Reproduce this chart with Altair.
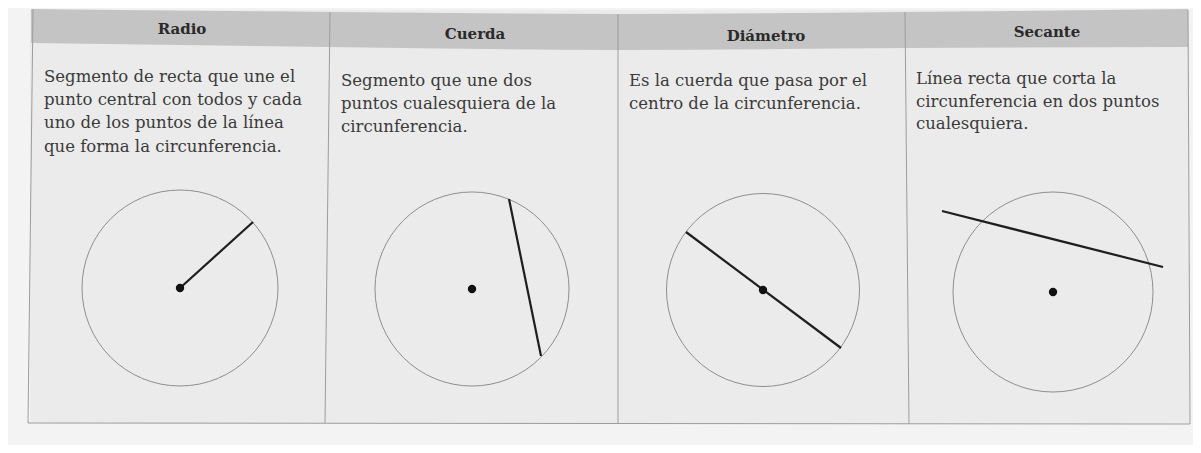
import altair as alt
import pandas as pd

# ---- content of the figure (image coordinate space, y grows downward) ----
headers = ["Radio", "Cuerda", "Diámetro", "Secante"]
header_x = [182, 475, 766, 1047]
header_y = [29, 34, 36, 32]

col_text_x = [44, 341, 629, 916]
col_lines = [
    ["Segmento de recta que une el", "punto central con todos y cada",
     "uno de los puntos de la línea", "que forma la circunferencia."],
    ["Segmento que une dos", "puntos cualesquiera de la", "circunferencia."],
    ["Es la cuerda que pasa por el", "centro de la circunferencia."],
    ["Línea recta que corta la", "circunferencia en dos puntos", "cualesquiera."],
]
col_line_y = [
    [77, 100, 123, 147],
    [81, 104, 127],
    [81, 104],
    [79, 102, 124],
]

circle_cx = [180, 472, 763, 1053]
circle_cy = [288, 289, 290, 292]
circle_r = [98, 97, 96.5, 100]

seg_x1 = [180, 509, 686, 942]
seg_y1 = [288, 199, 232, 211]
seg_x2 = [253, 541, 841, 1163]
seg_y2 = [222, 356, 348, 267]

# header band outline (top / bottom edge along x)
band_x = [31, 330, 618, 907, 1188]
band_top = [9, 12, 14, 12, 9]
band_bot = [43, 47, 50, 48, 47]

# table grid lines
grid_x1 = [33, 1188, 330, 618, 905, 28]
grid_y1 = [9, 10, 12, 14, 12, 423]
grid_x2 = [28, 1190, 325, 618, 909, 1190]
grid_y2 = [423, 424, 423, 424, 424, 424]

# ---- build tables ----
circles = pd.DataFrame({"cx": circle_cx, "cy": circle_cy, "r": circle_r})
circles["size"] = (2 * circles["r"]) ** 2
segs = pd.DataFrame({"x": seg_x1, "y": seg_y1, "x2": seg_x2, "y2": seg_y2})
band = pd.DataFrame({"x": band_x, "top": band_top, "bot": band_bot})
grid = pd.DataFrame({"x": grid_x1, "y": grid_y1, "x2": grid_x2, "y2": grid_y2})
head = pd.DataFrame({"t": headers, "x": header_x, "y": header_y})
rows = []
for cx, lines, ys in zip(col_text_x, col_lines, col_line_y):
    for t, yy in zip(lines, ys):
        rows.append({"t": t, "x": cx, "y": yy})
body = pd.DataFrame(rows)
bg = pd.DataFrame({"x": [30], "x2": [1189], "y": [10], "y2": [423]})

XS = alt.Scale(domain=[8, 1193], nice=False, zero=False)
YS = alt.Scale(domain=[445, 8], nice=False, zero=False)


def X(f):
    return alt.X(f, type="quantitative", scale=XS, axis=None)


def Y(f):
    return alt.Y(f, type="quantitative", scale=YS, axis=None)


body_rect = alt.Chart(bg).mark_rect(color="#ebebeb").encode(
    x=X("x"), x2="x2", y=Y("y"), y2="y2")

band_area = alt.Chart(band).mark_area(color="#c4c4c4", interpolate="monotone").encode(
    x=X("x"), y=Y("top"), y2="bot")

grid_rules = alt.Chart(grid).mark_rule(color="#9c9c9c", strokeWidth=1).encode(
    x=X("x"), y=Y("y"), x2="x2", y2="y2")

circle_marks = alt.Chart(circles).mark_point(
    shape="circle", filled=False, color="#8e8e8e", strokeWidth=1, opacity=1
).encode(x=X("cx"), y=Y("cy"), size=alt.Size("size:Q", scale=None, legend=None))

seg_marks = alt.Chart(segs).mark_rule(color="#1e1e1e", strokeWidth=2.2).encode(
    x=X("x"), y=Y("y"), x2="x2", y2="y2")

dot_marks = alt.Chart(circles).mark_point(
    shape="circle", filled=True, color="#111111", size=70, opacity=1
).encode(x=X("cx"), y=Y("cy"))

head_text = alt.Chart(head).mark_text(
    font="DejaVu Serif", fontSize=15, fontWeight="bold", color="#2a2a2a",
    align="center", baseline="middle"
).encode(x=X("x"), y=Y("y"), text="t:N")

body_text = alt.Chart(body).mark_text(
    font="DejaVu Serif", fontSize=16.5, color="#3a3a3a",
    align="left", baseline="middle"
).encode(x=X("x"), y=Y("y"), text="t:N")

chart = alt.layer(
    body_rect, band_area, grid_rules, circle_marks, seg_marks, dot_marks,
    head_text, body_text
).properties(
    width=1185, height=437, padding=0, background="#f3f3f3"
).configure_view(stroke=None)

chart.save("out.html", embed_options={"renderer": "svg", "actions": False})
